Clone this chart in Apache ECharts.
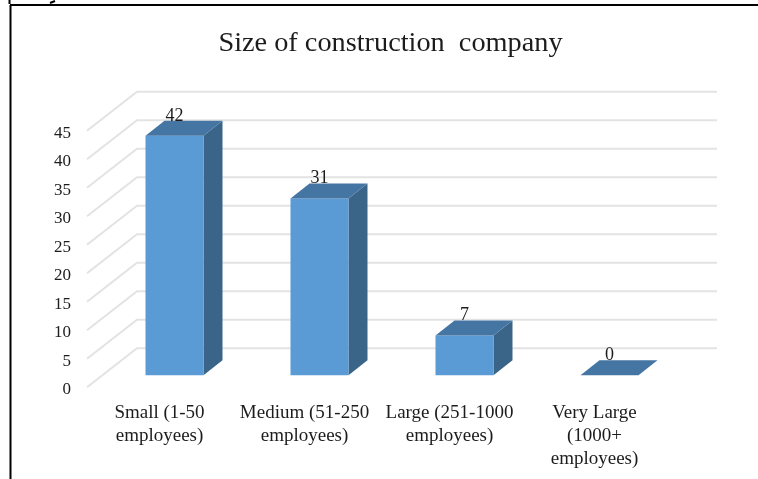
<!DOCTYPE html>
<html>
<head>
<meta charset="utf-8">
<style>html,body{margin:0;padding:0;background:#fff}#c{width:758px;height:479px}</style>
<script src="https://cdn.jsdelivr.net/npm/echarts@6/dist/echarts.min.js"></script>
</head>
<body>
<div id="c"></div>
<script>
const titleText = 'Size of construction\u00a0 company';
const categories = ['Small (1-50\nemployees)', 'Medium (51-250\nemployees)', 'Large (251-1000\nemployees)', 'Very Large\n(1000+\nemployees)'];
const values = [42, 31, 7, 0];
const tickValues = [0, 5, 10, 15, 20, 25, 30, 35, 40, 45];

const FONT = '"Liberation Serif","Times New Roman",serif';
const TEXT = '#1c1c1c';
const FRONT = '#5B9BD5', TOP = '#4575A3', SIDE = '#3A6488', GRID = '#E3E3E3';
const WALL_DX = 50, WALL_DY = -39;      // depth of the floor
const BAR_SHIFT_X = 15, BAR_SHIFT_Y = -12; // bars stand inside the floor
const BAR_DX = 19, BAR_DY = -15;        // depth of one bar

function renderWall(params, api) {
  const r = params.coordSys;
  const p = api.coord([0, api.value(0)]);
  const y = p[1];
  return {
    type: 'polyline',
    shape: { points: [[r.x, y], [r.x + WALL_DX, y + WALL_DY], [r.x + r.width + WALL_DX, y + WALL_DY]] },
    style: { stroke: GRID, lineWidth: 2, fill: null },
    silent: true
  };
}

function renderBar(params, api) {
  const cat = api.value(0), val = api.value(1);
  const top = api.coord([cat, val]);
  const base = api.coord([cat, 0]);
  const w = api.size([1, 0])[0] * 0.4;
  const xl = top[0] - w / 2 + BAR_SHIFT_X, xr = xl + w;
  const yt = top[1] + BAR_SHIFT_Y, yb = base[1] + BAR_SHIFT_Y;
  const children = [];
  if (yb - yt > 0.5) {
    children.push({ type: 'polygon', shape: { points: [[xr, yt], [xr + BAR_DX, yt + BAR_DY], [xr + BAR_DX, yb + BAR_DY], [xr, yb]] }, style: { fill: SIDE } });
    children.push({ type: 'rect', shape: { x: xl, y: yt, width: w, height: yb - yt }, style: { fill: FRONT } });
  }
  children.push({ type: 'polygon', shape: { points: [[xl, yt], [xl + BAR_DX, yt + BAR_DY], [xr + BAR_DX, yt + BAR_DY], [xr, yt]] }, style: { fill: TOP } });
  children.push({
    type: 'text',
    style: { x: (xl + xr) / 2, y: yt + BAR_DY - 5, text: String(val), fill: TEXT, font: '18px ' + FONT, align: 'center', verticalAlign: 'middle' }
  });
  return { type: 'group', children };
}

const chart = echarts.init(document.getElementById('c'), null, { renderer: 'canvas' });
chart.setOption({
  animation: false,
  backgroundColor: '#ffffff',
  title: {
    text: titleText, left: 385.5, top: 25, textAlign: 'center',
    textStyle: { fontFamily: FONT, fontSize: 28.3, fontWeight: 'normal', color: TEXT }
  },
  grid: { left: 87, top: 130.7, width: 580, height: 256.6 },
  xAxis: {
    type: 'category', data: categories,
    axisLine: { show: false }, axisTick: { show: false }, splitLine: { show: false },
    axisLabel: { interval: 0, margin: 14, fontFamily: FONT, fontSize: 19, lineHeight: 23, color: TEXT }
  },
  yAxis: {
    type: 'value', min: 0, max: 45, interval: 5,
    axisLine: { show: false }, axisTick: { show: false }, splitLine: { show: false },
    axisLabel: { margin: 16, fontFamily: FONT, fontSize: 17, verticalAlign: 'top', lineHeight: 5, color: TEXT }
  },
  graphic: [
    { type: 'line', shape: { x1: 10.5, y1: 5, x2: 10.5, y2: 479 }, style: { stroke: '#000', lineWidth: 2 }, silent: true },
    { type: 'line', shape: { x1: 10, y1: 5, x2: 758, y2: 5 }, style: { stroke: '#000', lineWidth: 2 }, silent: true },
    { type: 'line', shape: { x1: 9.5, y1: 0, x2: 9.5, y2: 4 }, style: { stroke: '#000', lineWidth: 2 }, silent: true },
    { type: 'line', shape: { x1: 50, y1: 3, x2: 55, y2: 1 }, style: { stroke: '#000', lineWidth: 2 }, silent: true }
  ],
  series: [
    { type: 'custom', name: 'walls', z: 1, renderItem: renderWall, data: tickValues.map(v => [v]), encode: { y: 0 }, silent: true },
    { type: 'custom', name: 'Size of construction company', z: 2, renderItem: renderBar, data: values.map((v, i) => [i, v]), encode: { x: 0, y: 1 }, silent: true }
  ]
});
</script>
</body>
</html>
